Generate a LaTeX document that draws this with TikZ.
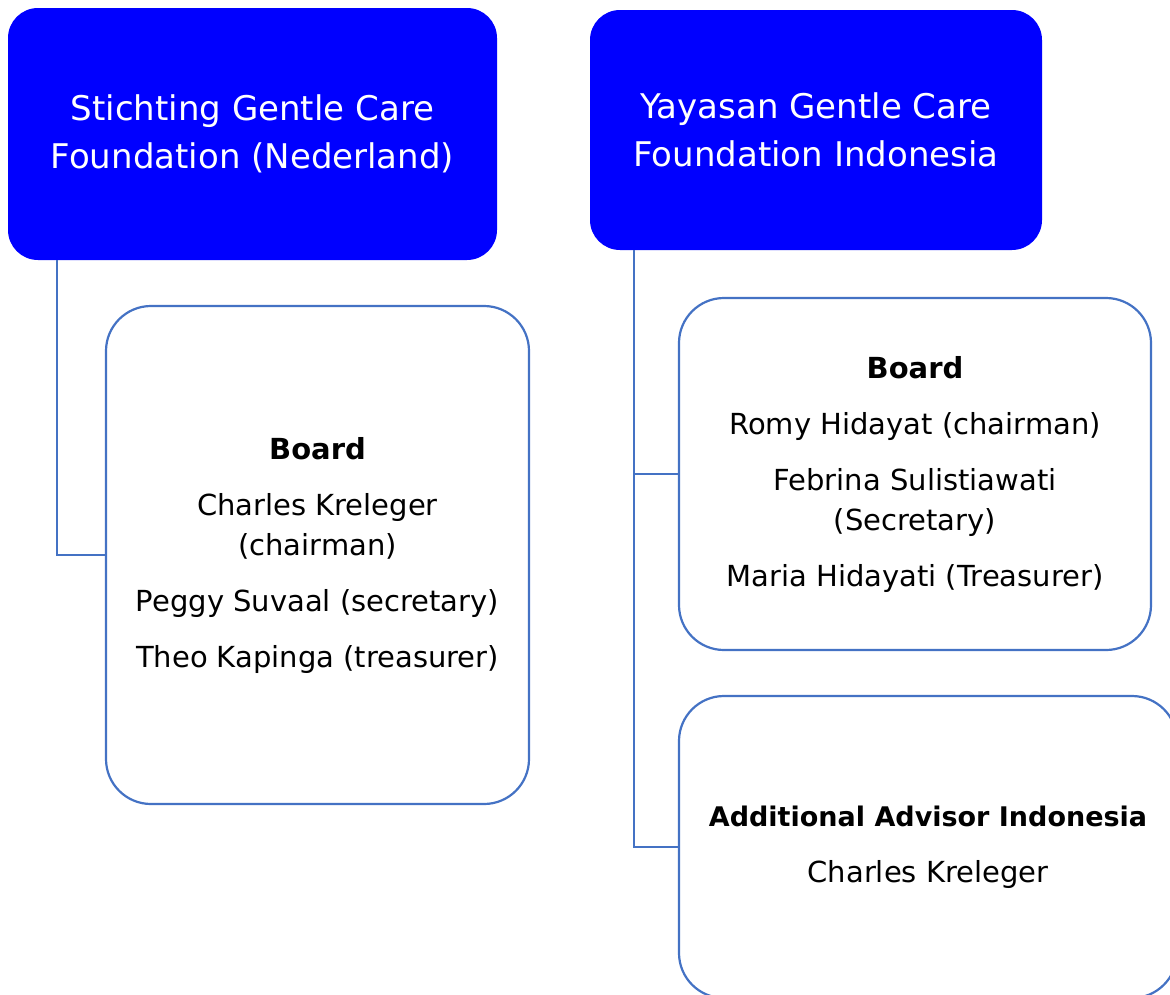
\documentclass[tikz,border=0pt]{standalone}
\usepackage{fontspec}
\setmainfont{DejaVu Sans}
\usetikzlibrary{positioning}
\definecolor{orgblue}{HTML}{0000FF}
\definecolor{lineblue}{HTML}{4472C4}
\tikzset{
    orgbox/.style={rectangle, rounded corners=30pt, fill=orgblue, text=white, align=center,
        inner sep=0pt, font=\fontsize{34}{48}\selectfont},
    memberbox/.style={rectangle, rounded corners=45pt, draw=lineblue, line width=2.2pt, fill=white,
        text=black, align=center, inner sep=0pt, font=\fontsize{29}{40}\selectfont},
    link/.style={draw=lineblue, line width=2pt}
}
\begin{document}
\begin{tikzpicture}[x=1pt, y=-1pt]
    \useasboundingbox (0,0) rectangle (1170,994);
    \clip (0,0) rectangle (1170,994);

    % foundations
    \node[orgbox, minimum width=489pt, minimum height=252pt] (stg) at (252.5,134)
        {Stichting Gentle Care\\Foundation (Nederland)};
    \node[orgbox, minimum width=452pt, minimum height=240pt] (ygc) at (816,130)
        {Yayasan Gentle Care\\Foundation Indonesia};

    % boards
    \node[memberbox, minimum width=423pt, minimum height=498pt] (nlboard) at (317.5,555)
        {\textbf{Board}\\[16pt]Charles Kreleger\\(chairman)\\[16pt]Peggy Suvaal (secretary)\\[16pt]Theo Kapinga (treasurer)};
    \node[memberbox, minimum width=472pt, minimum height=352pt] (idboard) at (915,474)
        {\textbf{Board}\\[16pt]Romy Hidayat (chairman)\\[16pt]Febrina Sulistiawati\\(Secretary)\\[16pt]Maria Hidayati (Treasurer)};
    \node[memberbox, minimum width=498pt, minimum height=302pt] (advisor) at (928,847)
        {{\fontsize{27}{40}\selectfont\textbf{Additional Advisor Indonesia}}\\[16pt]Charles Kreleger};

    % connectors
    \draw[link] ([xshift=49pt]stg.south west) |- (nlboard.west);
    \draw[link] ([xshift=44pt]ygc.south west) |- (idboard.west);
    \draw[link] ([xshift=44pt]ygc.south west) |- (advisor.west);
\end{tikzpicture}
\end{document}
